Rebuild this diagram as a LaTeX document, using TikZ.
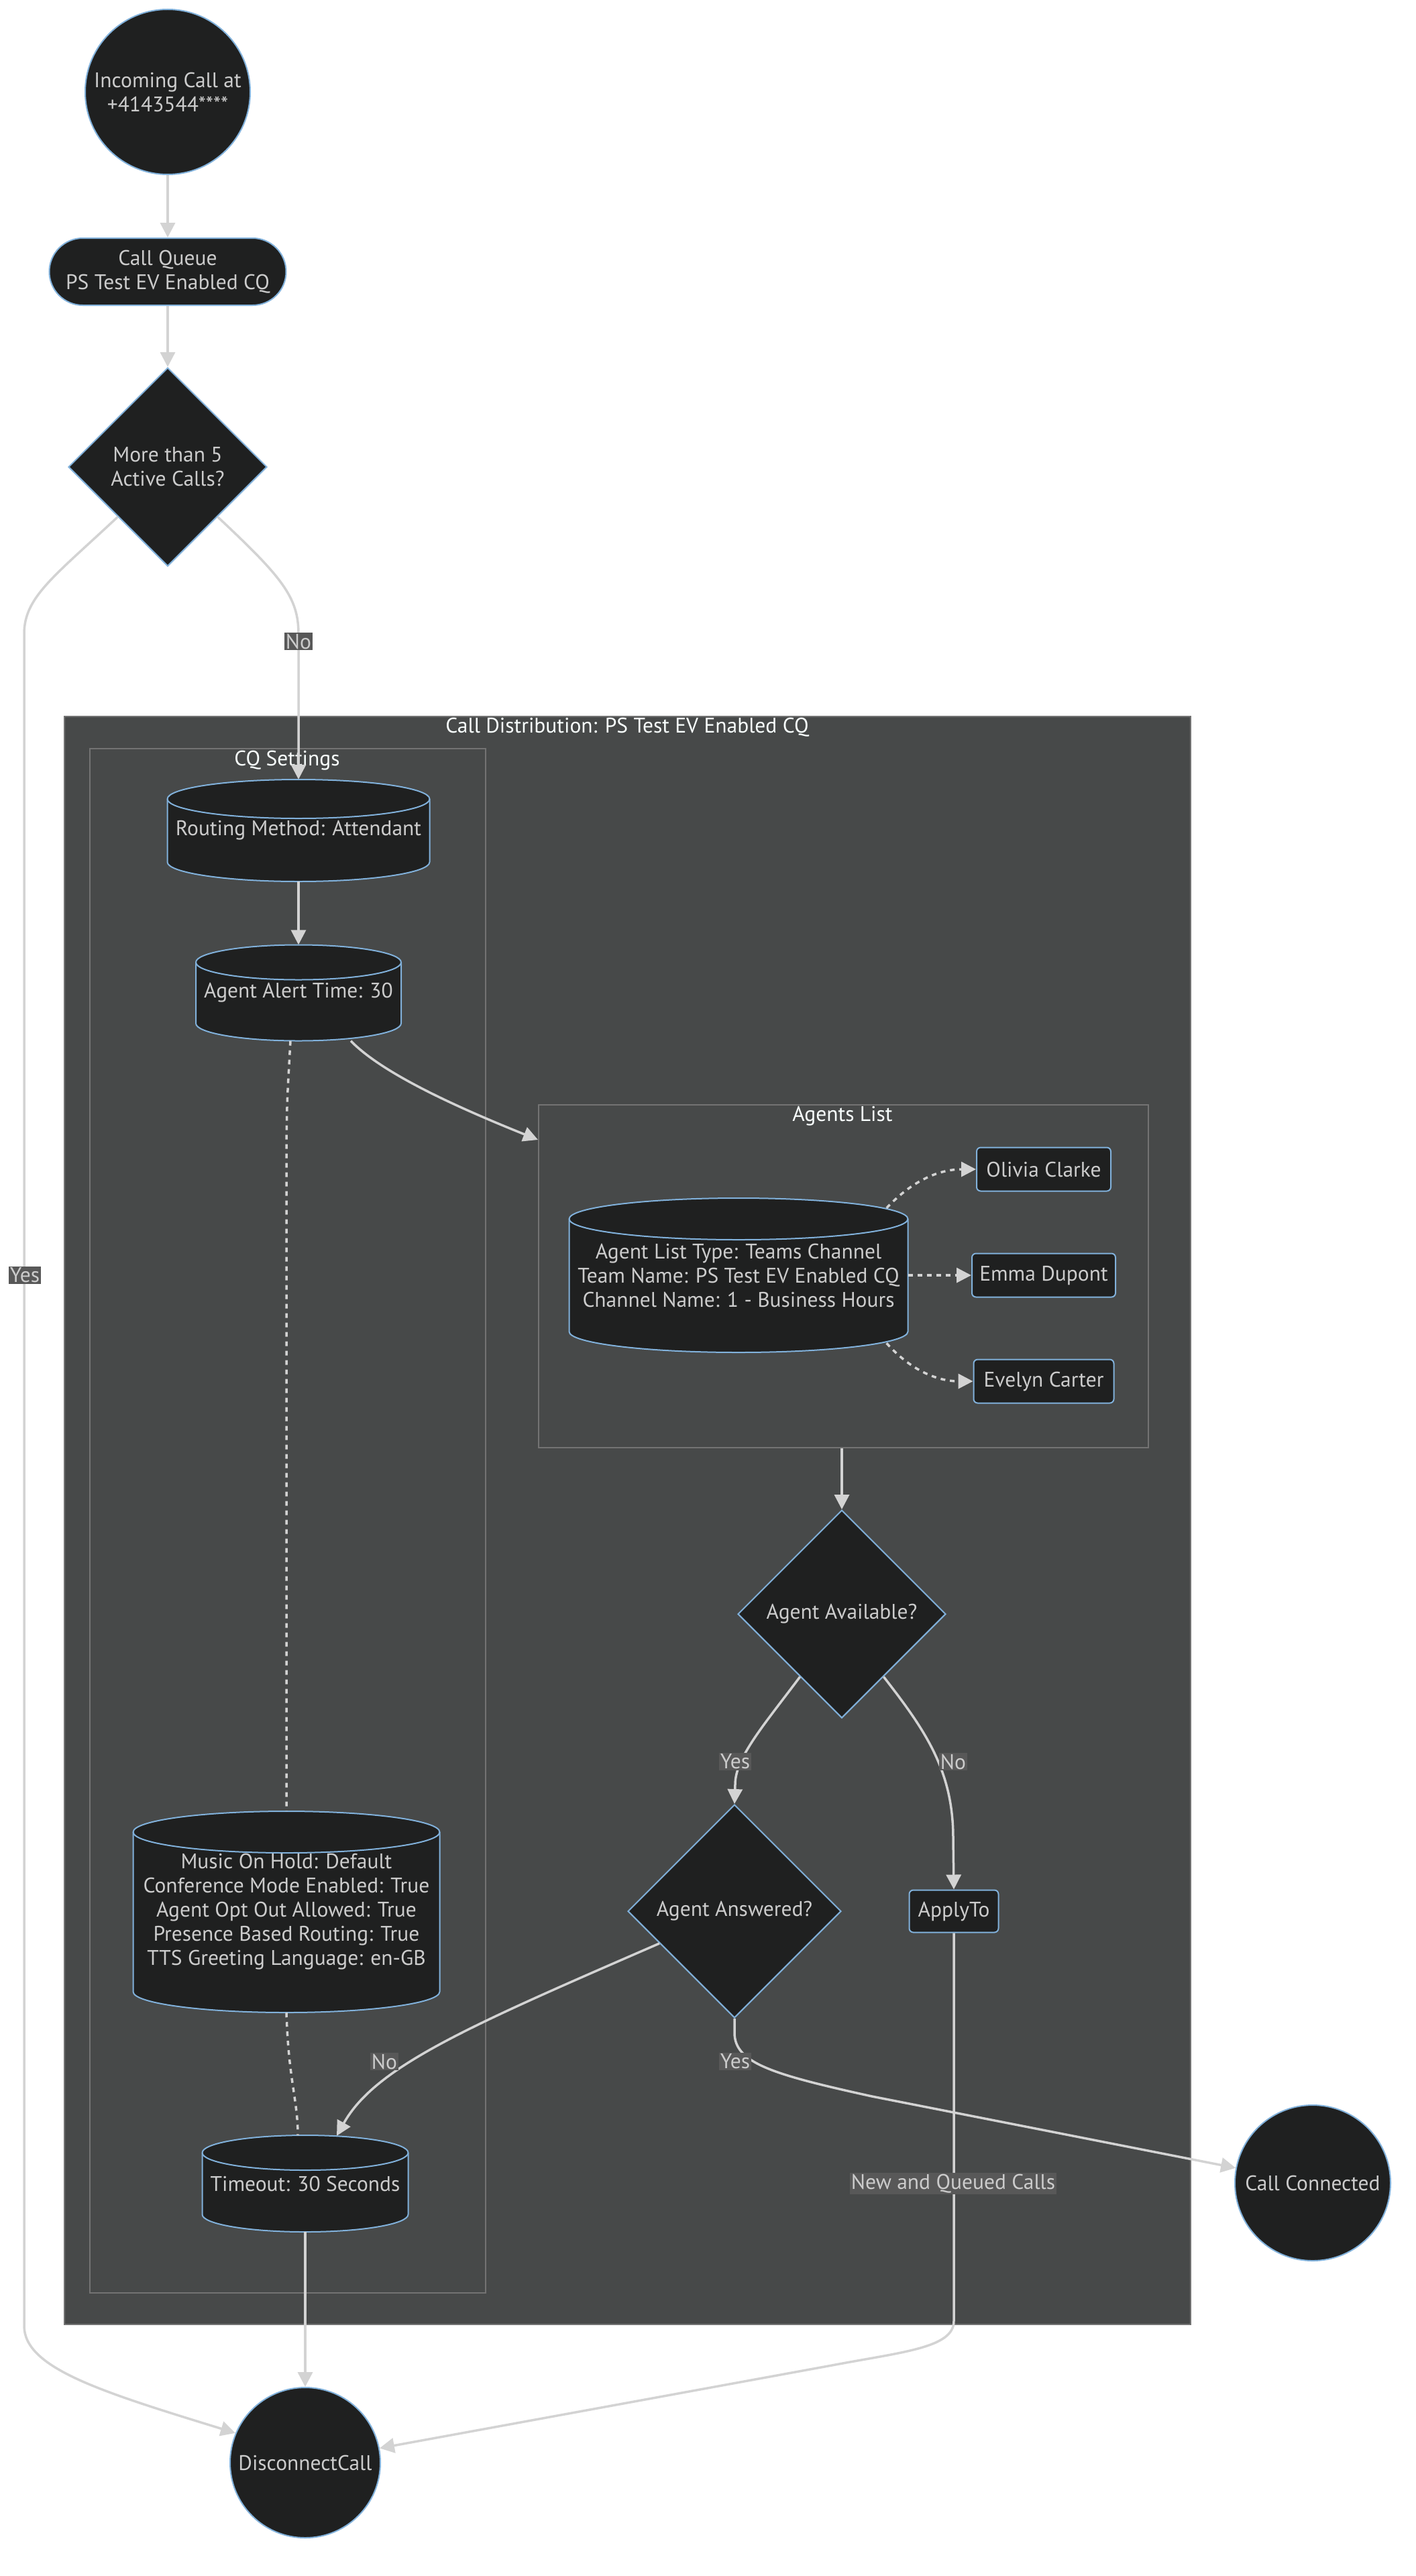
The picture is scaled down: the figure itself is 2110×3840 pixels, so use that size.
\documentclass[tikz,border=0pt]{standalone}
\usepackage{fontspec}
\setmainfont{PT Sans}
\usetikzlibrary{shapes.geometric,arrows.meta,calc}
\definecolor{nodefill}{HTML}{1F2020}
\definecolor{nodeborder}{HTML}{81B1DB}
\definecolor{clusterfill}{HTML}{474949}
\definecolor{clusterborder}{HTML}{737373}
\definecolor{edgecol}{HTML}{D3D3D3}
\definecolor{txt}{HTML}{CCCCCC}
\definecolor{titletxt}{HTML}{F9FFFE}
\definecolor{lblfill}{HTML}{585858}
\newcommand{\dbcyl}[7]{%
  \pgfmathsetmacro{\cxl}{#2-#4/2}%
  \pgfmathsetmacro{\cxr}{#2+#4/2}%
  \pgfmathsetmacro{\cyt}{-#3+#5/2-#6}%
  \pgfmathsetmacro{\cyb}{-#3-#5/2+#6}%
  \pgfmathsetmacro{\crx}{#4/2}%
  \path[cylshape] (\cxl,\cyt) arc[start angle=180,end angle=0,x radius=\crx,y radius=#6] -- (\cxr,\cyb) arc[start angle=0,end angle=-180,x radius=\crx,y radius=#6] -- cycle;
  \draw[cylline] (\cxl,\cyt) arc[start angle=180,end angle=360,x radius=\crx,y radius=#6];
  \node[cyltext,minimum width=#4,minimum height=#5] (#1) at (#2,-#3) {#7};
}
\begin{document}
\begin{tikzpicture}[x=1pt,y=1pt,
  txtfont/.style={font=\fontsize{31.5}{36}\selectfont},
  base/.style={fill=nodefill, draw=nodeborder, line width=2pt, text=txt, txtfont, align=center, inner sep=0pt},
  roundnode/.style={base, circle, minimum size=#1},
  stadium/.style={base, rectangle, rounded corners=50pt, minimum width=353, minimum height=100},
  decision/.style={base, diamond, aspect=1, minimum width=#1, minimum height=#1},
  agentbox/.style={base, rectangle, rounded corners=6pt, minimum height=65},
  cylshape/.style={fill=nodefill, draw=nodeborder, line width=2pt},
  cylline/.style={draw=nodeborder, line width=2pt},
  cyltext/.style={text=txt, txtfont, align=center, inner sep=0pt},
  cluster/.style={fill=clusterfill, draw=clusterborder, line width=2pt, inner sep=0pt, anchor=north west},
  ctitle/.style={text=titletxt, txtfont, inner sep=0pt},
  edge/.style={draw=edgecol, line width=3.5pt, -{Triangle[length=22pt,width=22pt]}},
  dotedge/.style={edge, dash pattern=on 7pt off 7pt},
  dotline/.style={draw=edgecol, line width=3.5pt, dash pattern=on 7pt off 7pt},
  lbl/.style={fill=lblfill, text=txt, txtfont, inner sep=2pt}
]
\useasboundingbox (0,0) rectangle (2110,-3840);
\fill[white] (0,0) rectangle (2110,-3840);

% clusters
\node[cluster, minimum width=1679, minimum height=2397] (cd) at (95,-1067) {};
\node[ctitle] (cdt) at (935,-1084) {Call Distribution: PS Test EV Enabled CQ};
\node[cluster, minimum width=590, minimum height=2302] (cqs) at (133,-1115) {};
\node[ctitle] (cqst) at (428,-1134) {CQ Settings};
\node[cluster, minimum width=909, minimum height=511] (al) at (802,-1646) {};
\node[ctitle] (alt) at (1256,-1664) {Agents List};

% nodes
\node[roundnode=246] (inc) at (250,-137) {Incoming Call at\\+4143544****};
\node[stadium] (cq) at (250,-405) {Call Queue\\PS Test EV Enabled CQ};
\node[decision=296] (d1) at (250,-696) {More than 5\\Active Calls?};

\dbcyl{rm}{445}{1238}{391}{152}{29}{Routing Method: Attendant}
\dbcyl{aa}{445}{1480}{306}{143}{26}{Agent Alert Time: 30}
\dbcyl{moh}{427}{2850}{457}{300}{31}{Music On Hold: Default\\Conference Mode Enabled: True\\Agent Opt Out Allowed: True\\Presence Based Routing: True\\TTS Greeting Language: en-GB}
\dbcyl{to}{455}{3255}{307}{144}{26}{Timeout: 30 Seconds}
\dbcyl{alc}{1101}{1901}{505}{230}{31}{Agent List Type: Teams Channel\\Team Name: PS Test EV Enabled CQ\\Channel Name: 1 - Business Hours}

\node[agentbox, minimum width=200] (ol) at (1556,-1743) {Olivia Clarke};
\node[agentbox, minimum width=214] (em) at (1556,-1901) {Emma Dupont};
\node[agentbox, minimum width=209] (ev) at (1556,-2059) {Evelyn Carter};

\node[decision=310] (aav) at (1255,-2406) {Agent Available?};
\node[decision=318] (aan) at (1095,-2849) {Agent Answered?};
\node[agentbox, minimum width=133, minimum height=63] (apt) at (1422,-2849) {ApplyTo};
\node[roundnode=232] (cc) at (1957,-3254) {Call Connected};
\node[roundnode=224] (dc) at (455,-3671) {DisconnectCall};

% edges
\draw[edge] (inc.south) -- (cq.north);
\draw[edge] (cq.south) -- (d1.north);
\draw[edge] (d1.south east) .. controls (420,-860) and (445,-890) .. (445,-945) -- (rm.north);
\draw[edge] (d1.south west) .. controls (80,-860) and (36,-890) .. (36,-945) -- (36,-3467) .. controls (36,-3530) and (150,-3565) .. (dc.157);
\draw[edge] (rm.south) -- (aa.north);
\draw[edge] ($(aa.south)+(78,0)$) .. controls (570,-1600) and (680,-1650) .. ($(al.north west)+(0,-53)$);
\draw[dotedge] ($(alc.north east)+(-32,-15)$) .. controls (1360,-1760) and (1400,-1743) .. (ol.west);
\draw[dotedge] (alc.east) -- (em.west);
\draw[dotedge] ($(alc.south east)+(-32,14)$) .. controls (1360,-2045) and (1400,-2059) .. (ev.west);
\draw[edge] (al.south -| aav.north) -- (aav.north);
\draw[edge] ($(aav.south)!0.4!(aav.west)$) .. controls (1140,-2570) and (1096,-2620) .. (1096,-2660) -- (aan.north);
\draw[edge] ($(aav.south)!0.4!(aav.east)$) .. controls (1380,-2580) and (1421,-2640) .. (1421,-2740) -- (apt.north);
\draw[edge] ($(aan.west)!0.3!(aan.south)$) .. controls (700,-3020) and (560,-3080) .. ($(to.north)+(47,-1)$);
\draw[edge] (aan.south) -- (1095,-3030) .. controls (1095,-3075) and (1150,-3092) .. (1300,-3125) -- (cc.169);
\draw[edge] (apt.south) -- (1422,-3460) .. controls (1422,-3500) and (1345,-3506) .. (1240,-3526) -- (dc.11);
\draw[edge] (to.south) -- (dc.north);
\draw[dotline] ($(aa.south)+(-12,0)$) .. controls (428,-1640) .. (427,-1700) -- (moh.north);
\draw[dotline] (moh.south) .. controls (430,-3100) and (444,-3130) .. ($(to.north)+(-11,0)$);

% edge labels
\node[lbl] (l1) at (445,-956) {No};
\node[lbl] (l2) at (37,-1901) {Yes};
\node[lbl] (l3) at (1096,-2626) {Yes};
\node[lbl] (l4) at (1421,-2626) {No};
\node[lbl] (l5) at (573,-3073) {No};
\node[lbl] (l6) at (1096,-3073) {Yes};
\node[lbl] (l7) at (1421,-3255) {New and Queued Calls};
\end{tikzpicture}
\end{document}
